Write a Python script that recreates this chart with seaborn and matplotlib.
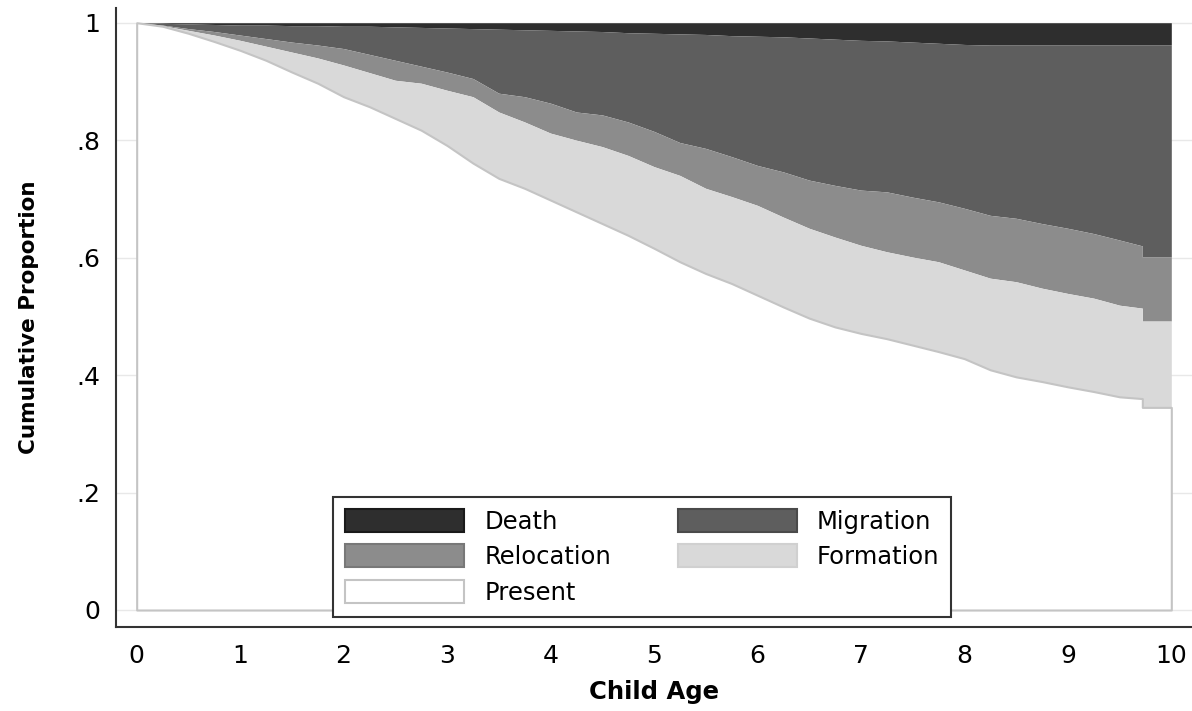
from matplotlib import pyplot as plt
from matplotlib.patches import Patch
import numpy as np
import seaborn as sns

sns.set_theme(style='white')
plt.rcParams['font.family'] = ['DejaVu Sans']
plt.rcParams['text.color'] = 'black'
plt.rcParams['axes.labelcolor'] = 'black'

# child age grid (the repeated 9.72 is the last drop of the step curves)
age = [0, 0.25, 0.5, 0.75, 1, 1.25, 1.5, 1.75, 2, 2.25, 2.5, 2.75, 3, 3.25, 3.5, 3.75,
       4, 4.25, 4.5, 4.75, 5, 5.25, 5.5, 5.75, 6, 6.25, 6.5, 6.75, 7, 7.25, 7.5, 7.75,
       8, 8.25, 8.5, 8.75, 9, 9.25, 9.5, 9.72, 9.72, 10]

# cumulative upper edge of each band
present_top = [1.000, 0.994, 0.982, 0.968, 0.953, 0.936, 0.916, 0.897, 0.874, 0.857,
               0.837, 0.817, 0.791, 0.761, 0.735, 0.718, 0.698, 0.678, 0.658, 0.638,
               0.616, 0.593, 0.573, 0.556, 0.536, 0.516, 0.497, 0.482, 0.471, 0.462,
               0.451, 0.440, 0.428, 0.409, 0.397, 0.389, 0.380, 0.372, 0.363, 0.360,
               0.345, 0.345]
formation_top = [1.000, 0.995, 0.987, 0.979, 0.970, 0.960, 0.950, 0.940, 0.928, 0.915,
                 0.902, 0.897, 0.885, 0.874, 0.848, 0.831, 0.812, 0.800, 0.789, 0.774,
                 0.755, 0.740, 0.718, 0.704, 0.689, 0.669, 0.650, 0.635, 0.621, 0.610,
                 0.601, 0.593, 0.579, 0.565, 0.559, 0.548, 0.539, 0.531, 0.519, 0.514,
                 0.492, 0.492]
relocation_top = [1.000, 0.996, 0.990, 0.985, 0.979, 0.973, 0.967, 0.962, 0.956, 0.946,
                  0.936, 0.926, 0.916, 0.905, 0.880, 0.874, 0.863, 0.848, 0.843, 0.831,
                  0.815, 0.796, 0.786, 0.772, 0.757, 0.746, 0.732, 0.723, 0.715, 0.712,
                  0.703, 0.695, 0.684, 0.672, 0.667, 0.658, 0.650, 0.641, 0.630, 0.620,
                  0.601, 0.601]
migration_top = [1.000, 0.999, 0.998, 0.997, 0.996, 0.996, 0.995, 0.995, 0.994, 0.994,
                 0.993, 0.992, 0.991, 0.990, 0.989, 0.988, 0.987, 0.986, 0.985, 0.983,
                 0.982, 0.981, 0.980, 0.978, 0.977, 0.976, 0.974, 0.972, 0.970, 0.969,
                 0.967, 0.965, 0.963, 0.962, 0.962, 0.962, 0.962, 0.962, 0.962, 0.962,
                 0.962, 0.962]

colors = {'Death': '#2e2e2e', 'Migration': '#5e5e5e', 'Relocation': '#8c8c8c',
          'Formation': '#d9d9d9', 'Present': '#ffffff'}
edges = {'Death': '#1a1a1a', 'Migration': '#4a4a4a', 'Relocation': '#787878',
         'Formation': '#d0d0d0', 'Present': '#c4c4c4'}

x = np.array(age)
bands = {
    'Present': (np.zeros_like(x), np.array(present_top)),
    'Formation': (np.array(present_top), np.array(formation_top)),
    'Relocation': (np.array(formation_top), np.array(relocation_top)),
    'Migration': (np.array(relocation_top), np.array(migration_top)),
    'Death': (np.array(migration_top), np.ones_like(x)),
}

fig = plt.figure(figsize=(11.92, 7.11), dpi=100)
ax = fig.add_axes([0.0973, 0.1181, 0.9027, 0.8706])

for name in ['Death', 'Migration', 'Relocation', 'Formation']:
    lo, hi = bands[name]
    ax.fill_between(x, lo, hi, color=colors[name], lw=0, zorder=2)
lo, hi = bands['Present']
ax.fill_between(x, lo, hi, facecolor='white', edgecolor=edges['Present'], lw=1.5, zorder=3)

ax.set_xlim(-0.2, 10.2)
ax.set_ylim(-0.029, 1.025)
ax.set_xticks(range(11))
ax.set_yticks([0, 0.2, 0.4, 0.6, 0.8, 1])
ax.set_yticklabels(['0', '.2', '.4', '.6', '.8', '1'])
ax.yaxis.grid(True, color='#e8e8e8', lw=1)
ax.set_axisbelow(True)
ax.tick_params(axis='both', which='major', labelsize=18, length=8.5, width=1.2,
               color='#333333', labelcolor='black', direction='out')
ax.tick_params(axis='x', pad=4)
ax.tick_params(axis='y', pad=3)
sns.despine(ax=ax)
for side in ['left', 'bottom']:
    ax.spines[side].set_color('#333333')
    ax.spines[side].set_linewidth(1.5)

ax.set_xlabel('Child Age', fontsize=17.5, fontweight='bold', labelpad=8)
ax.set_ylabel('Cumulative Proportion', fontsize=15.5, fontweight='bold', labelpad=27)

order = ['Death', 'Relocation', 'Present', 'Migration', 'Formation']
handles = [Patch(facecolor=colors[n], edgecolor=edges[n], lw=1.5, label=n) for n in order]
leg = ax.legend(handles=handles, ncol=2, loc='lower left', bbox_to_anchor=(0.2017, 0.0162),
                fontsize=17.5, handlelength=4.9, handleheight=1.07, handletextpad=0.82,
                labelspacing=0.45, columnspacing=2.75, borderpad=0.5, borderaxespad=0,
                fancybox=False, framealpha=1, edgecolor='#333333')
leg.get_frame().set_linewidth(1.5)
leg.set_zorder(5)

fig.savefig('out.png', dpi=100)
